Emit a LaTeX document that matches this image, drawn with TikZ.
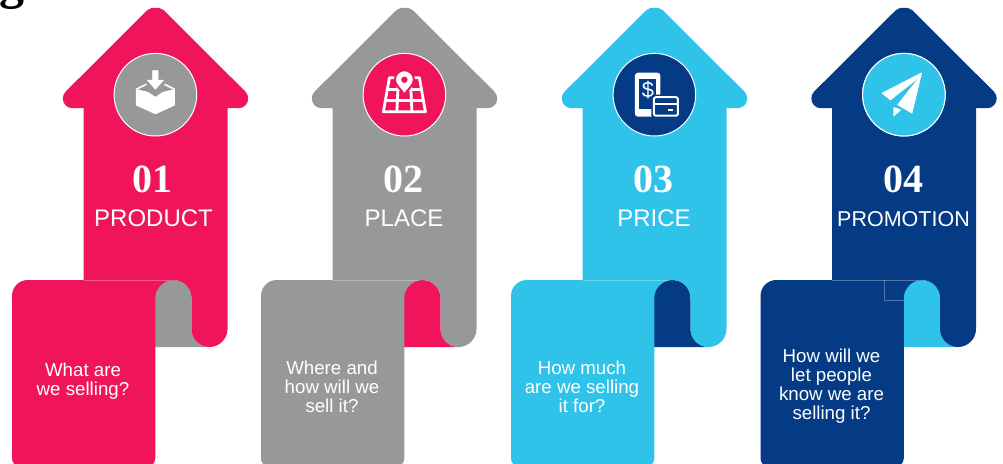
\documentclass[tikz,border=0pt]{standalone}
\usepackage{fontspec}
\setmainfont{Liberation Sans}
\newfontfamily\numfont{Liberation Serif}
\definecolor{cpink}{HTML}{F0155A}
\definecolor{cgray}{HTML}{96989A}
\definecolor{ccyan}{HTML}{2FC3E9}
\definecolor{cnavy}{HTML}{053A84}
\tikzset{
  numlabel/.style={anchor=base,text=white,inner sep=0pt,font=\numfont\bfseries\fontsize{40}{40}\selectfont},
  unitlabel/.style={anchor=base,text=white,inner sep=0pt},
  cardtext/.style={anchor=center,text=white,inner sep=0pt,align=center,font=\fontsize{18.7}{19}\selectfont},
  badge/.style={circle,draw=white,line width=1pt,minimum size=82.6pt,inner sep=0pt},
  hair/.style={draw=white,draw opacity=.3,line width=.6pt},
  iconline/.style={draw=white,line width=2.8pt,line cap=round,line join=round}
}
% #1 id, #2 shift, #3 main, #4 accent, #5 number, #6 label, #7 label size, #8 card text, #9 card text y
\newcommand\marketunit[9]{%
\begin{scope}[shift={(#2,0)}]
  \fill[#4] (150,280) -- (173.5,280) .. controls (183.4,280) and (191.5,288.1) .. (191.5,298)
    -- (191.5,329) .. controls (191.5,338.9) and (199.6,347) .. (209.5,347) -- (150,347) -- cycle;
  \fill[#3] (147.5,10) .. controls (150,7.7) and (153,7.8) .. (155.5,7.8)
    .. controls (158,7.8) and (161,7.7) .. (163.5,10)
    -- (245.4,91.6) .. controls (247.2,93.4) and (248.2,95.9) .. (248.2,98.5)
    .. controls (248.2,103.9) and (243.9,108.2) .. (238.5,108.2)
    -- (227.5,108.2) -- (227.5,329) .. controls (227.5,338.9) and (219.4,347) .. (209.5,347)
    .. controls (199.6,347) and (191.5,338.9) .. (191.5,329) -- (191.5,298)
    .. controls (191.5,288.1) and (183.4,280) .. (173.5,280) -- (83.5,280) -- (83.5,108.2) -- (72.5,108.2)
    .. controls (67.1,108.2) and (62.8,103.9) .. (62.8,98.5)
    .. controls (62.8,95.9) and (63.8,93.4) .. (65.6,91.6) -- cycle;
  \fill[#3] (28,280) -- (173.5,280) .. controls (163.6,280) and (155.3,288.1) .. (155.3,298)
    -- (155.3,458) .. controls (155.3,463) and (152,466) .. (147.5,466)
    -- (20,466) .. controls (15,466) and (12,463) .. (12,458) -- (12,296)
    .. controls (12,287) and (19,280) .. (28,280) -- cycle;
  \path[hair] (83.5,280) -- (170,280);
  \node[badge,fill=#4] (badge#1) at (155.4,94.7) {};
  \ifnum#1>1 \def\numx{154.8}\def\labx{155}\else \def\numx{152.5}\def\labx{153.5}\fi
  \node[numlabel] (num#1) at (\numx,192) {#5};
  \node[unitlabel,font=\fontsize{#7}{#7}\selectfont] (label#1) at (\labx,226) {#6};
  \node[cardtext] (card#1) at (83,#9) {#8};
\end{scope}}
\begin{document}
\begin{tikzpicture}[x=1pt,y=-1pt]
\useasboundingbox (0,0) rectangle (1003,463);
\node[anchor=base west,inner sep=0pt,font=\numfont\bfseries\fontsize{50}{50}\selectfont] (headtail) at (-1,-1.2) {g};
\marketunit{1}{0}{cpink}{cgray}{01}{PRODUCT}{24}{What are\\we selling?}{381.5}
\marketunit{2}{249}{cgray}{cpink}{02}{PLACE}{24}{Where and\\how will we\\sell it?}{387}
\marketunit{3}{499}{ccyan}{cnavy}{03}{PRICE}{24}{How much\\are we selling\\it for?}{387}
\path[draw=white,draw opacity=.35,line width=.6pt] (832,108.3) -- (975,108.3);
\marketunit{4}{748.5}{cnavy}{ccyan}{04}{PROMOTION}{21.5}{How will we\\let people\\know we are\\selling it?}{386}
\path[hair] (884,280) -- (884,300.7) -- (903.5,300.7);
\node[badge,fill=ccyan] (badge4b) at (903.9,94.7) {};
% box icon
\begin{scope}[shift={(155.4,94.7)}]
  \fill[white,line join=round,draw=white,line width=1pt] (-19,-5) -- (0,-0.5) -- (19,-5) -- (19,10.3) -- (0,19) -- (-19,10.3) -- cycle;
  \draw[white,line width=1.6pt,line join=round] (-19,-5.5) -- (-9,-10.5) (19,-5.5) -- (9,-10.5);
  \fill[cgray] (-9,-9) -- (9,-9) -- (9,-4) -- (0,2) -- (-9,-4) -- cycle;
  \fill[white,draw=white,line width=.6pt,line join=round] (-2.7,-24) -- (2.7,-24) -- (2.7,-14.5) -- (8,-14.5) -- (0,-5.5) -- (-8,-14.5) -- (-2.7,-14.5) -- cycle;
\end{scope}
% map icon
\begin{scope}[shift={(404.4,94.7)}]
  \draw[iconline] (-15,-17) -- (15,-17) -- (21,17) -- (-21,17) -- cycle;
  \draw[iconline] (-17.3,-5) -- (17.3,-5) (-19.2,6) -- (19.2,6);
  \draw[iconline] (-6,-17) -- (-7.5,17) (6,-17) -- (7.5,17);
  \fill[white,draw=cpink,line width=2pt,line join=round] (0,0) .. controls (-3,-5) and (-9.5,-9.5) .. (-9.5,-15)
     .. controls (-9.5,-20.5) and (-5,-24.5) .. (0,-24.5)
     .. controls (5,-24.5) and (9.5,-20.5) .. (9.5,-15)
     .. controls (9.5,-9.5) and (3,-5) .. (0,0) -- cycle;
  \fill[cpink] (0,-15) circle[radius=3.2pt];
\end{scope}
% phone and card icon
\begin{scope}[shift={(654.4,94.7)}]
  \fill[white,rounded corners=3pt] (-19.5,-22) rectangle (6,22);
  \fill[cnavy] (-15.5,-15.7) rectangle (2,14.7);
  \node[inner sep=0pt,text=white,font=\fontsize{22}{22}\selectfont] (dollar) at (-6.5,-4.5) {\$};
  \fill[cnavy,rounded corners=2pt] (-3,0) rectangle (25.5,23);
  \draw[white,fill=cnavy,line width=2pt,rounded corners=2pt] (-0.5,2.5) rectangle (23.5,21);
  \fill[white] (-0.5,8) rectangle (23.5,10.5);
  \fill[white] (13.5,14.7) rectangle (18.5,16.5);
\end{scope}
% paper plane icon
\begin{scope}[shift={(903.9,94.7)}]
  \fill[white,draw=white,line width=1pt,line join=round] (17.5,-21.5) -- (-21.5,-1.5) -- (-13.5,5) -- (10,-13.5) -- cycle;
  \fill[white,draw=white,line width=1pt,line join=round] (17.5,-21.5) -- (8,18.2) -- (-6,10) -- (11,-11.5) -- cycle;
  \fill[white,draw=white,line width=1pt,line join=round] (-10,13) -- (-3.5,15.2) -- (-10,21) -- cycle;
\end{scope}
\end{tikzpicture}
\end{document}
